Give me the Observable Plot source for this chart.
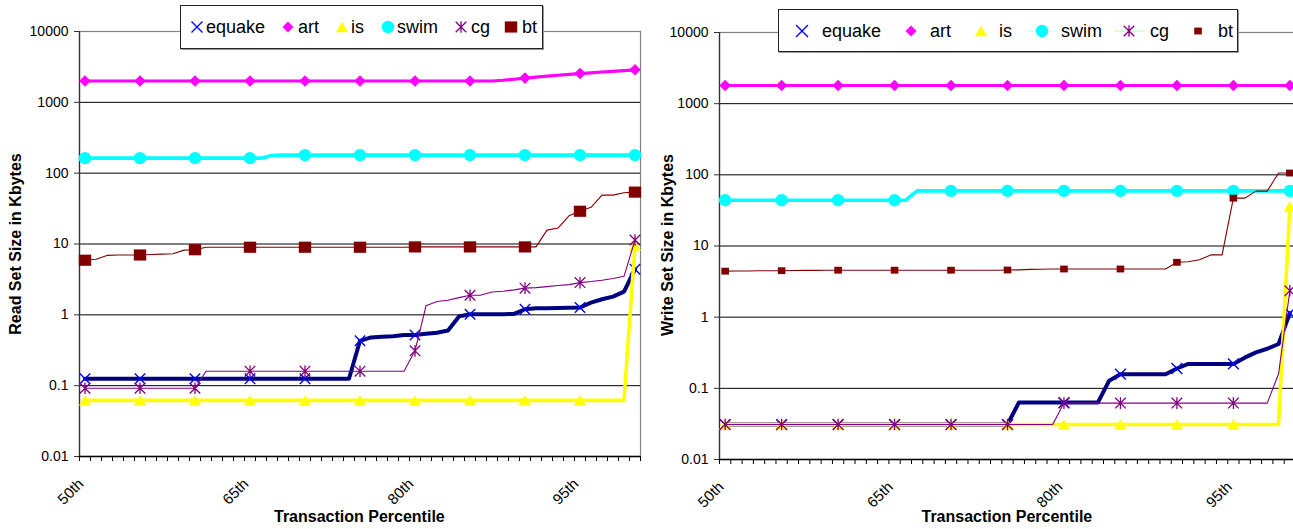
<!DOCTYPE html>
<html><head><meta charset="utf-8">
<script src="https://cdn.jsdelivr.net/npm/d3@7"></script>
<script src="https://cdn.jsdelivr.net/npm/@observablehq/plot@0.6"></script>
<style>
body{margin:0;background:#fff;font-family:"Liberation Sans",Arial,sans-serif;}
#wrap{position:relative;width:1293px;height:529px;overflow:hidden;background:#fff}
.panel{position:absolute;top:0}
.legend{position:absolute;border:1px solid #222;background:#fff;box-sizing:border-box;box-shadow:1px 1px 0 #999;}
.legend .txt{position:absolute;font-size:18px;line-height:18px;color:#000;white-space:nowrap}
.legend svg{position:absolute;overflow:visible}
.title{position:absolute;font-weight:bold;font-size:16px;white-space:nowrap;color:#000}
</style></head>
<body><div id="wrap"></div>
<script>
// ---------- data ----------
const percentiles = [50,51,52,53,54,55,56,57,58,59,60,61,62,63,64,65,66,67,68,69,70,71,72,73,74,75,76,77,78,79,80,81,82,83,84,85,86,87,88,89,90,91,92,93,94,95,96,97,98,99,100];
const xTickValues = [50,65,80,95];
const xTickLabels = ["50th","65th","80th","95th"];
const yTickValues = [0.01,0.1,1,10,100,1000,10000];
const yTickLabels = ["0.01","0.1","1","10","100","1000","10000"];
const seriesNames = ["equake","art","is","swim","cg","bt"];

// Read set sizes (Kbytes)
const readEquake = [0.125,0.125,0.125,0.125,0.125,0.125,0.125,0.125,0.125,0.125,0.125,0.125,0.125,0.125,0.125,0.125,0.125,0.125,0.125,0.125,0.125,0.125,0.125,0.125,0.125,0.43,0.48,0.49,0.50,0.52,0.52,0.54,0.56,0.60,0.95,1.02,1.02,1.02,1.02,1.03,1.2,1.24,1.24,1.25,1.26,1.27,1.49,1.66,1.81,2.13,4.4];
const readArt = [2000,2000,2000,2000,2000,2000,2000,2000,2000,2000,2000,2000,2000,2000,2000,2000,2000,2000,2000,2000,2000,2000,2000,2000,2000,2000,2000,2000,2000,2000,2000,2000,2000,2000,2000,2000,2000,2000,2050,2120,2200,2270,2340,2410,2480,2550,2610,2680,2740,2810,2880];
const readIs = [0.062,0.062,0.062,0.062,0.062,0.062,0.062,0.062,0.062,0.062,0.062,0.062,0.062,0.062,0.062,0.062,0.062,0.062,0.062,0.062,0.062,0.062,0.062,0.062,0.062,0.062,0.062,0.062,0.062,0.062,0.062,0.062,0.062,0.062,0.062,0.062,0.062,0.062,0.062,0.062,0.062,0.062,0.062,0.062,0.062,0.062,0.062,0.062,0.062,0.062,9.5];
const readSwim = [163,163,163,163,163,163,163,163,163,163,163,163,163,163,163,163,163,178,180,180,180,180,180,180,180,180,180,180,180,180,180,180,180,180,180,180,180,180,180,180,180,180,180,180,180,180,180,180,180,180,180];
const readCg = [0.092,0.092,0.092,0.092,0.092,0.092,0.092,0.092,0.092,0.092,0.092,0.16,0.16,0.16,0.16,0.16,0.16,0.16,0.16,0.16,0.16,0.16,0.16,0.16,0.16,0.16,0.16,0.16,0.16,0.16,0.31,1.34,1.54,1.61,1.75,1.89,1.9,2.1,2.15,2.25,2.38,2.42,2.5,2.6,2.67,2.85,2.95,3.08,3.25,3.5,11.4];
const readBt = [5.9,6.1,6.9,7.0,7.0,7.0,7.1,7.2,7.3,8.2,8.3,9.0,9.0,9.0,9.0,9.0,9.0,9.0,9.0,9.0,9.0,9.0,9.0,9.0,9.0,9.0,9.0,9.0,9.0,9.0,9.1,9.1,9.1,9.1,9.1,9.1,9.1,9.1,9.1,9.1,9.1,9.1,15.7,16.8,25,29,33,49,49,53,54];

// Write set sizes (Kbytes)
const writeEquake = [0.031,0.031,0.031,0.031,0.031,0.031,0.031,0.031,0.031,0.031,0.031,0.031,0.031,0.031,0.031,0.031,0.031,0.031,0.031,0.031,0.031,0.031,0.031,0.031,0.031,0.031,0.063,0.063,0.063,0.063,0.063,0.063,0.063,0.063,0.128,0.158,0.158,0.158,0.158,0.158,0.19,0.22,0.22,0.22,0.22,0.22,0.27,0.32,0.36,0.42,1.14];
const writeArt = [1800,1800,1800,1800,1800,1800,1800,1800,1800,1800,1800,1800,1800,1800,1800,1800,1800,1800,1800,1800,1800,1800,1800,1800,1800,1800,1800,1800,1800,1800,1800,1800,1800,1800,1800,1800,1800,1800,1800,1800,1800,1800,1800,1800,1800,1800,1800,1800,1800,1800,1800];
const writeIs = [0.031,0.031,0.031,0.031,0.031,0.031,0.031,0.031,0.031,0.031,0.031,0.031,0.031,0.031,0.031,0.031,0.031,0.031,0.031,0.031,0.031,0.031,0.031,0.031,0.031,0.031,0.031,0.031,0.031,0.031,0.031,0.031,0.031,0.031,0.031,0.031,0.031,0.031,0.031,0.031,0.031,0.031,0.031,0.031,0.031,0.031,0.031,0.031,0.031,0.031,36];
const writeSwim = [44,44,44,44,44,44,44,44,44,44,44,44,44,44,44,44,44,59.5,59.5,59.5,59.5,59.5,59.5,59.5,59.5,59.5,59.5,59.5,59.5,59.5,59.5,59.5,59.5,59.5,59.5,59.5,59.5,59.5,59.5,59.5,59.5,59.5,59.5,59.5,59.5,59.5,59.5,59.5,59.5,59.5,59.5];
const writeCg = [0.031,0.031,0.031,0.031,0.031,0.031,0.031,0.031,0.031,0.031,0.031,0.031,0.031,0.031,0.031,0.031,0.031,0.031,0.031,0.031,0.031,0.031,0.031,0.031,0.031,0.031,0.031,0.031,0.031,0.031,0.062,0.062,0.062,0.062,0.062,0.062,0.062,0.062,0.062,0.062,0.062,0.062,0.062,0.062,0.062,0.062,0.062,0.062,0.062,0.16,2.35];
const writeBt = [4.43,4.45,4.46,4.48,4.49,4.5,4.52,4.54,4.55,4.56,4.57,4.57,4.57,4.57,4.57,4.57,4.57,4.57,4.57,4.57,4.57,4.57,4.57,4.57,4.57,4.6,4.62,4.7,4.72,4.74,4.75,4.75,4.75,4.75,4.75,4.75,4.75,4.75,4.75,4.75,5.9,6.0,6.4,7.5,7.5,47,47,59,59,106,106];

// ---------- symbols ----------
const symTimes = {draw(c, s){const r=Math.sqrt(s/Math.PI); c.moveTo(-r,-r);c.lineTo(r,r);c.moveTo(-r,r);c.lineTo(r,-r);}};
const symAsterisk = {draw(c, s){const r=Math.sqrt(s/Math.PI); c.moveTo(-r,-r);c.lineTo(r,r);c.moveTo(-r,r);c.lineTo(r,-r);c.moveTo(0,-r*1.1);c.lineTo(0,r*1.1);}};
const symTriangle = {draw(c, s){const r=Math.sqrt(s/Math.PI); c.moveTo(0,-r*0.9);c.lineTo(r*1.05,r*0.9);c.lineTo(-r*1.05,r*0.9);c.closePath();}};
const symDiamond = {draw(c, s){const r=Math.sqrt(s/Math.PI); c.moveTo(0,-r);c.lineTo(r,0);c.lineTo(0,r);c.lineTo(-r,0);c.closePath();}};
const symSquare = {draw(c, s){const r=Math.sqrt(s/Math.PI); c.rect(-r,-r*0.9,2*r,1.8*r);}};
const symCircle = {draw(c, s){const r=Math.sqrt(s/Math.PI); c.moveTo(r,0);c.arc(0,0,r,0,2*Math.PI);}};

const styles = {
  equake:{line:"#000080", lw:4, sym:symTimes, mfill:"none", mstroke:"#0000FF", msw:1.4},
  art:{line:"#FF00FF", lw:3.2, sym:symDiamond, mfill:"#FF00FF", mstroke:"none", msw:0},
  is:{line:"#FFFF00", lw:3.6, sym:symTriangle, mfill:"#FFFF00", mstroke:"none", msw:0},
  swim:{line:"#00FFFF", lw:3.6, sym:symCircle, mfill:"#00FFFF", mstroke:"none", msw:0},
  cg:{line:"#800080", lw:1.1, sym:symAsterisk, mfill:"none", mstroke:"#800080", msw:1.3},
  bt:{line:"#800000", lw:1.1, sym:symSquare, mfill:"#800000", mstroke:"none", msw:0}
};

function makeTable(vals){ return percentiles.map((p,i)=>({p, v: vals[i], i})); }

function panel({series, sizes, width, margins}){
  const bounds = percentiles.map(p=>p-0.5).concat([percentiles[percentiles.length-1]+0.5]);
  const marks = [
    Plot.ruleY(yTickValues.slice(1, -1), {y: d=>d, stroke:"#000", strokeWidth:1}),
    Plot.frame({stroke:"#808080", strokeWidth:1.2}),
    Plot.ruleX([bounds[0]], {x:d=>d, stroke:"#333", strokeWidth:1.3}),
    Plot.ruleY([yTickValues[0]], {y:d=>d, stroke:"#000", strokeWidth:1.3}),
    Plot.axisX({ticks: bounds, tickSize:5, tickFormat: ()=>"", stroke:"#000", label:null}),
    Plot.axisX({ticks: xTickValues, tickSize:0, tickRotate:-45, tickFormat: d=>xTickLabels[xTickValues.indexOf(d)], fontSize:15, dx:-4, dy:13, fill:"#000", label:null}),
    Plot.axisY({ticks: yTickValues, tickSize:5, tickPadding:6, tickFormat: d=>yTickLabels[yTickValues.indexOf(d)], fontSize:14, stroke:"#333", fill:"#000", label:null})
  ];
  seriesNames.forEach((name)=>{
    const st = styles[name];
    const data = makeTable(series[name]);
    marks.push(Plot.line(data, {x:"p", y:"v", stroke: st.line, strokeWidth: st.lw, strokeLinejoin:"round", strokeLinecap:"round"}));
    marks.push(Plot.dot(data.filter(d=>d.i%5===0), {x:"p", y:"v", symbol: st.sym, r: sizes[name], fill: st.mfill, stroke: st.mstroke, strokeWidth: st.msw}));
  });
  return Plot.plot({
    width, height:529, ...margins,
    style:{fontFamily:"'Liberation Sans', Arial, sans-serif", fontSize:"14px", color:"#000", background:"transparent", overflow:"visible"},
    x:{type:"linear", domain:[percentiles[0]-0.5, percentiles[percentiles.length-1]+0.5]},
    y:{type:"log", domain:[yTickValues[0], yTickValues[yTickValues.length-1]]},
    marks
  });
}

const wrap = document.getElementById("wrap");

const leftPlot = panel({
  series:{equake:readEquake, art:readArt, is:readIs, swim:readSwim, cg:readCg, bt:readBt},
  sizes:{equake:5.2, art:5.8, is:5.8, swim:6.2, cg:5.3, bt:6.2},
  width:646, margins:{marginLeft:79, marginRight:6, marginTop:31, marginBottom:73}
});
leftPlot.classList.add("panel"); leftPlot.style.left="0px";
wrap.appendChild(leftPlot);

const rightPlot = panel({
  series:{equake:writeEquake, art:writeArt, is:writeIs, swim:writeSwim, cg:writeCg, bt:writeBt},
  sizes:{equake:5.4, art:5.8, is:5.8, swim:6.2, cg:5.3, bt:3.8},
  width:649, margins:{marginLeft:73, marginRight:0, marginTop:32, marginBottom:70}
});
rightPlot.classList.add("panel"); rightPlot.style.left="646px";
wrap.appendChild(rightPlot);

// ---------- titles ----------
function addTitle(text, x, y, rotate){
  const d = document.createElement("div");
  d.className="title"; d.textContent=text;
  wrap.appendChild(d);
  const w = d.offsetWidth, h = d.offsetHeight;
  d.style.left = (x - w/2)+"px"; d.style.top = (y - h/2)+"px";
  if (rotate) d.style.transform = "rotate(-90deg)";
}
addTitle("Transaction Percentile", 359.5, 517, false);
addTitle("Transaction Percentile", 1007, 517, false);
addTitle("Read Set Size in Kbytes", 15, 244, true);
addTitle("Write Set Size in Kbytes", 668, 245, true);

// ---------- legends ----------
function addLegend(box, items, sizes, lineItems){
  const lg = document.createElement("div");
  lg.className="legend";
  Object.assign(lg.style,{left:box.x+"px", top:box.y+"px", width:box.w+"px", height:box.h+"px"});
  wrap.appendChild(lg);
  const cy = box.h/2 - 1;
  items.forEach(([name, mx, tx])=>{
    const st = styles[name];
    const svg = d3.create("svg").attr("width",1).attr("height",1)
      .style("left", mx+"px").style("top", cy+"px");
    if (lineItems && lineItems[name]) {
      svg.append("line").attr("x1",-15).attr("x2",15).attr("y1",0).attr("y2",0)
        .attr("stroke", lineItems[name]).attr("stroke-width",1.5);
    }
    const r = sizes[name];
    svg.append("path").attr("d", d3.symbol(st.sym, Math.PI*r*r)())
      .attr("fill", st.mfill).attr("stroke", st.mstroke).attr("stroke-width", st.msw);
    lg.appendChild(svg.node());
    const t = document.createElement("div");
    t.className="txt"; t.textContent=name;
    t.style.left = tx+"px"; t.style.top = (cy-9)+"px";
    lg.appendChild(t);
  });
}
addLegend({x:180,y:5,w:363,h:44},
  [["equake",16,25],["art",107,117],["is",161,170],["swim",207,216],["cg",280,290],["bt",330,341]],
  {equake:5.5, art:5.5, is:5.8, swim:6.2, cg:5.3, bt:6.2});
addLegend({x:778,y:9,w:460,h:43},
  [["equake",23,43],["art",132,151],["is",202,220],["swim",263,282],["cg",350,371],["bt",419,439]],
  {equake:6, art:5.5, is:5.8, swim:6.2, cg:5.3, bt:3.8},
  {swim:"#ccffff", cg:"#ccffcc"});
</script>
</body></html>
